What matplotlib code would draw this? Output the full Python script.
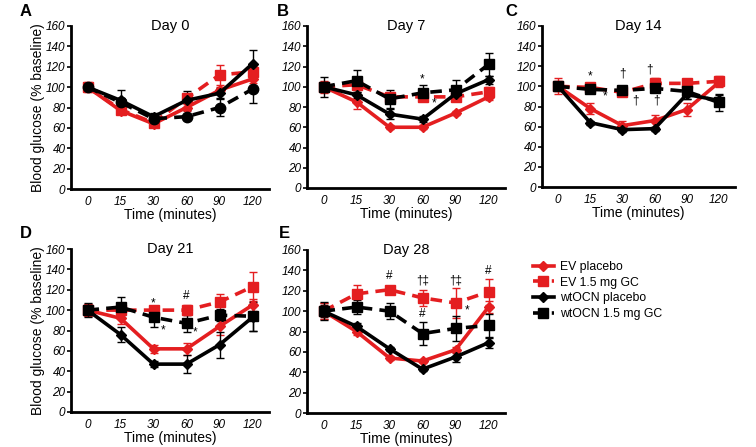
import matplotlib.pyplot as plt
from matplotlib.lines import Line2D

# time points (categorical on x)
time_labels = ['0', '15', '30', '60', '90', '120']
days = ['Day 0', 'Day 7', 'Day 14', 'Day 21', 'Day 28']
panel_letters = ['A', 'B', 'C', 'D', 'E']

# Day 0
d0_ev_plac = [100, 77, 64, 80, 97, 108]
d0_ev_plac_err = [4, 3, 3, 3, 3, 4]
d0_ev_gc = [100, 78, 65, 89, 112, 115]
d0_ev_gc_err = [5, 3, 3, 4, 10, 6]
d0_wt_plac = [100, 87, 71, 87, 94, 123]
d0_wt_plac_err = [4, 10, 4, 9, 5, 13]
d0_wt_gc = [100, 85, 69, 71, 80, 98]
d0_wt_gc_err = [4, 4, 3, 3, 8, 14]

# Day 7
d7_ev_plac = [100, 85, 60, 60, 74, 90]
d7_ev_plac_err = [4, 7, 2, 2, 2, 3]
d7_ev_gc = [100, 102, 90, 90, 90, 95]
d7_ev_gc_err = [6, 4, 4, 4, 4, 5]
d7_wt_plac = [100, 92, 73, 68, 93, 107]
d7_wt_plac_err = [5, 3, 5, 3, 3, 4]
d7_wt_gc = [100, 106, 88, 94, 97, 122]
d7_wt_gc_err = [10, 11, 9, 8, 10, 11]

# Day 14
d14_ev_plac = [100, 78, 61, 66, 77, 104]
d14_ev_plac_err = [8, 5, 5, 6, 6, 5]
d14_ev_gc = [100, 99, 94, 103, 103, 105]
d14_ev_gc_err = [5, 3, 3, 5, 3, 5]
d14_wt_plac = [100, 64, 57, 58, 92, 86]
d14_wt_plac_err = [3, 2, 2, 2, 5, 5]
d14_wt_gc = [100, 97, 96, 98, 95, 84]
d14_wt_gc_err = [4, 3, 3, 3, 8, 8]

# Day 21
d21_ev_plac = [100, 92, 62, 62, 84, 105]
d21_ev_plac_err = [6, 6, 4, 6, 8, 6]
d21_ev_gc = [100, 100, 100, 100, 108, 123]
d21_ev_gc_err = [6, 5, 4, 5, 8, 14]
d21_wt_plac = [100, 76, 47, 47, 66, 93]
d21_wt_plac_err = [5, 7, 3, 9, 13, 13]
d21_wt_gc = [100, 103, 93, 87, 95, 94]
d21_wt_gc_err = [7, 10, 10, 8, 6, 14]

# Day 28
d28_ev_plac = [100, 80, 54, 51, 62, 104]
d28_ev_plac_err = [8, 3, 2, 2, 3, 6]
d28_ev_gc = [100, 117, 121, 113, 108, 119]
d28_ev_gc_err = [8, 9, 3, 8, 15, 13]
d28_wt_plac = [100, 85, 63, 43, 55, 69]
d28_wt_plac_err = [6, 3, 2, 2, 5, 5]
d28_wt_gc = [100, 104, 100, 78, 83, 86]
d28_wt_gc_err = [9, 7, 8, 11, 12, 11]

# significance marks: (x index, y value, text)
d7_marks = [(3, 107, '*'), (3.35, 84, '*')]
d14_marks = [(1, 110, '*'), (1.45, 90, '*'), (2, 113, '\u2020'), (2.4, 86, '\u2020'),
             (2.85, 117, '\u2020'), (3.05, 86, '\u2020')]
d21_marks = [(2, 107, '*'), (2.3, 80, '*'), (3, 114, '#'), (3.25, 78, '*')]
d28_marks = [(2, 134, '#'), (3, 130, '\u2020\u2021'), (3, 97, '#'),
             (4, 130, '\u2020\u2021'), (4.35, 101, '*'), (5, 139, '#')]

plt.rcParams['font.family'] = ['Liberation Sans', 'DejaVu Sans']

RED = '#e41e20'
BLACK = '#000000'
DASH = (0, (3.2, 2.0))

panels = [
    (d0_ev_plac, d0_ev_plac_err, d0_ev_gc, d0_ev_gc_err, d0_wt_plac, d0_wt_plac_err, d0_wt_gc, d0_wt_gc_err, []),
    (d7_ev_plac, d7_ev_plac_err, d7_ev_gc, d7_ev_gc_err, d7_wt_plac, d7_wt_plac_err, d7_wt_gc, d7_wt_gc_err, d7_marks),
    (d14_ev_plac, d14_ev_plac_err, d14_ev_gc, d14_ev_gc_err, d14_wt_plac, d14_wt_plac_err, d14_wt_gc, d14_wt_gc_err, d14_marks),
    (d21_ev_plac, d21_ev_plac_err, d21_ev_gc, d21_ev_gc_err, d21_wt_plac, d21_wt_plac_err, d21_wt_gc, d21_wt_gc_err, d21_marks),
    (d28_ev_plac, d28_ev_plac_err, d28_ev_gc, d28_ev_gc_err, d28_wt_plac, d28_wt_plac_err, d28_wt_gc, d28_wt_gc_err, d28_marks),
]

W, H = 756, 447
# axes rectangles in pixels: left, top, right, bottom
boxes = [(71, 26, 269, 189), (307, 26, 505, 188), (542, 26, 735, 187),
         (71, 249, 269, 412), (307, 250, 505, 413)]
# panel letter positions in pixels (x, y from top)
letter_pos = [(20, 12), (277, 12), (505, 12), (20, 233), (279, 233)]

fig = plt.figure(figsize=(7.56, 4.47), dpi=100)
x = list(range(len(time_labels)))


def series(ax, y, err, color, ls, marker, ms):
    ax.errorbar(x, y, yerr=err, color=color, ls=ls, lw=2.6, marker=marker, ms=ms,
                mfc=color, mec=color, ecolor=color, elinewidth=1.0, capsize=3,
                capthick=1.0)


for i, p in enumerate(panels):
    l, t, r, b = boxes[i]
    ax = fig.add_axes([l / W, 1 - b / H, (r - l) / W, (b - t) / H])
    ev_p, ev_pe, ev_g, ev_ge, wt_p, wt_pe, wt_g, wt_ge, marks = p
    gc_marker = 'o' if i == 0 else 's'
    series(ax, ev_g, ev_ge, RED, DASH, 's', 7.5)
    series(ax, ev_p, ev_pe, RED, '-', 'D', 5.5)
    series(ax, wt_p, wt_pe, BLACK, '-', 'D', 5.5)
    series(ax, wt_g, wt_ge, BLACK, DASH, gc_marker, 7.5)
    for mx, my, s in marks:
        ax.text(mx, my, s, ha='center', va='center', fontsize=8.5)

    ax.set_xlim(-0.5, 5.5)
    ax.set_ylim(0, 160)
    ax.set_yticks(range(0, 161, 20))
    ax.set_xticks(x)
    ax.set_xticklabels(time_labels)
    for lab in ax.get_xticklabels() + ax.get_yticklabels():
        lab.set_fontstyle('italic')
        lab.set_fontsize(8.5)
    ax.tick_params(axis='x', length=0, pad=5)
    ax.tick_params(axis='y', length=3, width=1.2, pad=1)
    ax.spines['top'].set_visible(False)
    ax.spines['right'].set_visible(False)
    ax.spines['left'].set_linewidth(2)
    ax.spines['bottom'].set_linewidth(2)
    ax.set_xlabel('Time (minutes)', fontsize=10, labelpad=0)
    if i in (0, 3):
        ax.set_ylabel('Blood glucose (% baseline)', fontsize=10, labelpad=1)
    ax.text(0.5, 1.0, days[i], transform=ax.transAxes, ha='center', va='center',
            fontsize=10.5)
    lx, ly = letter_pos[i]
    fig.text(lx / W, 1 - ly / H, panel_letters[i], fontsize=12, fontweight='bold',
             ha='left', va='center')

handles = [
    Line2D([], [], color=RED, lw=2.6, marker='D', ms=5),
    Line2D([], [], color=RED, lw=2.6, ls=DASH, marker='s', ms=7),
    Line2D([], [], color=BLACK, lw=2.6, marker='D', ms=5),
    Line2D([], [], color=BLACK, lw=2.6, ls=DASH, marker='s', ms=7),
]
labels = ['EV placebo', 'EV 1.5 mg GC', 'wtOCN placebo', 'wtOCN 1.5 mg GC']
fig.legend(handles, labels, loc='upper left', bbox_to_anchor=(528 / W, 1 - 256 / H),
           frameon=False, fontsize=8.8, handlelength=1.7, handletextpad=0.5,
           labelspacing=0.3, borderaxespad=0)

fig.savefig('out.png', dpi=100)
